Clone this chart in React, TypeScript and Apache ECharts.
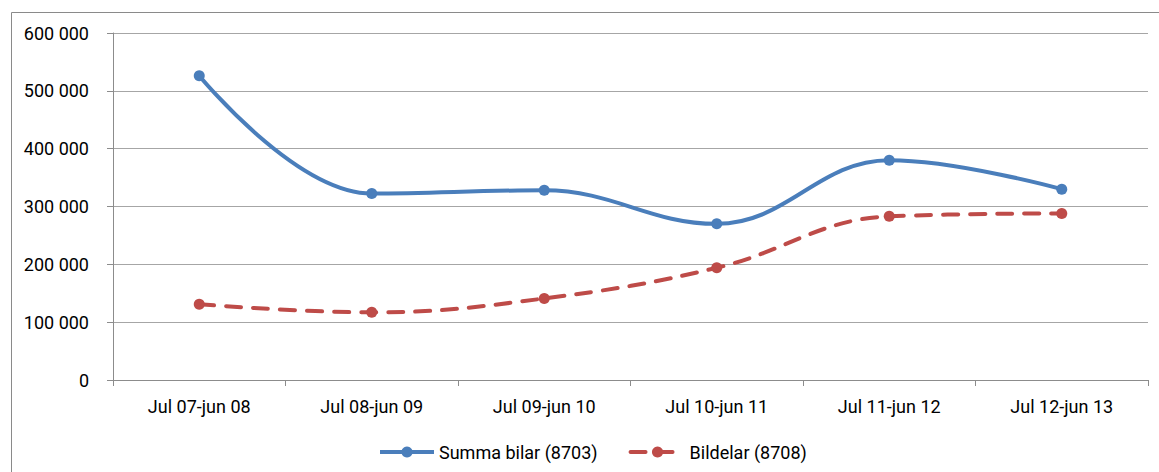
import React, { useEffect, useRef } from "react";
import * as echarts from "echarts";

const categories = [
  "Jul 07-jun 08",
  "Jul 08-jun 09",
  "Jul 09-jun 10",
  "Jul 10-jun 11",
  "Jul 11-jun 12",
  "Jul 12-jun 13",
];
const summaBilar = [526000, 322500, 328000, 270000, 380000, 330000];
const bildelar = [131000, 117000, 141000, 194000, 283000, 288000];
const seriesNames = ["Summa bilar (8703)", "Bildelar (8708)"];

const FONT = "Roboto, 'Noto Sans', sans-serif";

function fmt(v: number): string {
  return String(v).replace(/\B(?=(\d{3})+(?!\d))/g, " ");
}

export default function App() {
  const ref = useRef<HTMLDivElement>(null);
  useEffect(() => {
    document.body.style.margin = "0";
    const chart = echarts.init(ref.current!, undefined, { renderer: "svg" });
    chart.setOption({
      animation: false,
      backgroundColor: "#ffffff",
      textStyle: { fontFamily: FONT },
      graphic: [
        {
          type: "rect",
          shape: { x: 11.5, y: 12.5, width: 1160, height: 470 },
          style: { fill: "none", stroke: "#8a8a8a", lineWidth: 1 },
          silent: true,
        },
      ],
      grid: { left: 113, right: 11, top: 33, bottom: 92 },
      legend: {
        top: 438,
        left: 373,
        itemWidth: 54,
        itemHeight: 14,
        itemGap: 31,
        lineStyle: { width: 4 },
        textStyle: { fontFamily: FONT, fontSize: 18, color: "#000" },
        data: seriesNames,
      },
      xAxis: {
        type: "category",
        data: categories,
        boundaryGap: true,
        axisLine: { lineStyle: { color: "#8c8c8c", width: 1 } },
        axisTick: { show: true, length: 6, lineStyle: { color: "#8c8c8c" } },
        axisLabel: { fontFamily: FONT, fontSize: 18, color: "#000", margin: 17 },
        splitLine: { show: false },
      },
      yAxis: {
        type: "value",
        min: 0,
        max: 600000,
        interval: 100000,
        axisLine: { show: true, lineStyle: { color: "#8c8c8c", width: 1 } },
        axisTick: { show: true, length: 6, lineStyle: { color: "#8c8c8c" } },
        axisLabel: {
          fontFamily: FONT,
          fontSize: 18,
          color: "#000",
          margin: 24,
          formatter: (v: number) => fmt(v),
        },
        splitLine: { show: true, lineStyle: { color: "#a6a6a6", width: 1 } },
      },
      series: [
        {
          name: seriesNames[0],
          type: "line",
          data: summaBilar,
          smooth: 0.4,
          symbol: "circle",
          symbolSize: 11,
          color: "#4a7ebb",
          lineStyle: { color: "#4a7ebb", width: 4 },
          itemStyle: { color: "#4a7ebb" },
          z: 3,
        },
        {
          name: seriesNames[1],
          type: "line",
          data: bildelar,
          smooth: 0.4,
          symbol: "circle",
          symbolSize: 11,
          color: "#be4b48",
          lineStyle: { color: "#be4b48", width: 4, type: [15, 12], cap: "round" },
          itemStyle: { color: "#be4b48" },
          z: 2,
        },
      ],
    });
    return () => chart.dispose();
  }, []);
  return <div ref={ref} style={{ width: 1159, height: 472 }} />;
}
